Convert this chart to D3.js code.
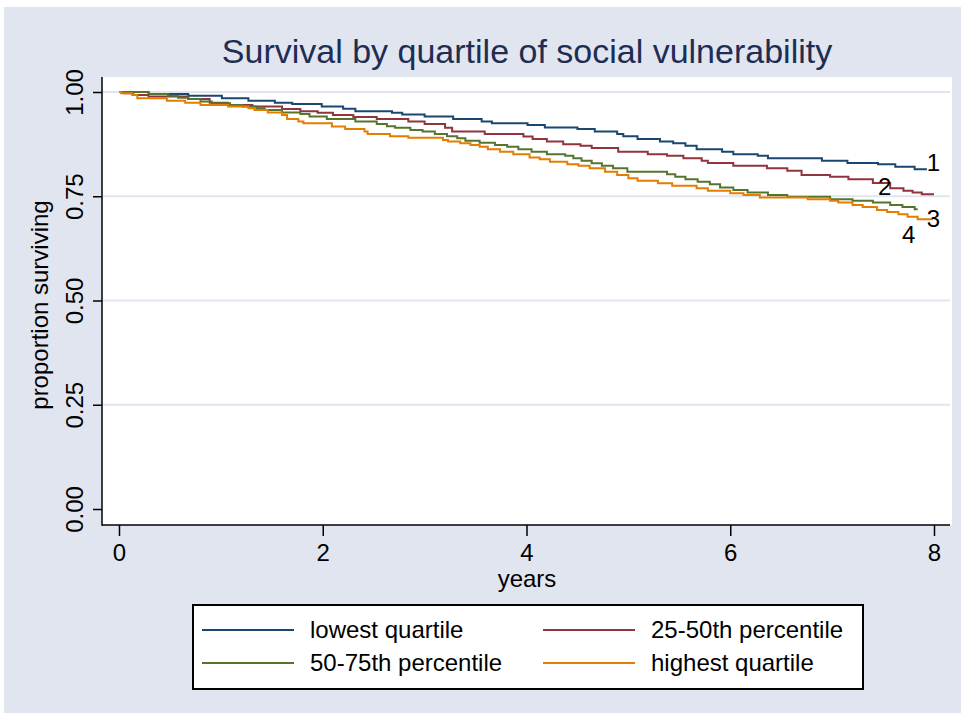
<!DOCTYPE html>
<html>
<head>
<meta charset="utf-8">
<script src="https://cdn.jsdelivr.net/npm/d3@7"></script>
<style>
  html, body { margin: 0; padding: 0; background: #ffffff; }
  svg { display: block; font-family: "Liberation Sans", Arial, sans-serif; }
</style>
</head>
<body>
<svg id="chart" width="964" height="717"></svg>
<script>
// Kaplan-Meier survival by quartile of social vulnerability
const categories = ["lowest quartile", "25-50th percentile", "50-75th percentile", "highest quartile"];
const curveTags = ["1", "2", "3", "4"];
const xTicks = [0, 2, 4, 6, 8];
const yTicks = [0, 0.25, 0.5, 0.75, 1];
const gridTicks = [0.25, 0.5, 0.75, 1];

// step times (years) and survival after each step; last entry is end of follow-up
const lowestYears = [0, 0.29, 0.68, 1.01, 1.27, 1.53, 1.70, 1.99, 2.20, 2.32, 2.68, 2.78, 3.00, 3.28, 3.56, 3.66,
  4.01, 4.18, 4.50, 4.67, 4.89, 4.95, 5.09, 5.31, 5.44, 5.56, 5.67, 5.92, 6.03, 6.27, 6.37, 6.90, 7.15, 7.45, 7.62, 7.81, 7.93];
const lowestSurv = [1.000, 0.995, 0.991, 0.985, 0.979, 0.974, 0.971, 0.965, 0.960, 0.954, 0.950, 0.946, 0.941, 0.935, 0.929, 0.925,
  0.921, 0.915, 0.911, 0.905, 0.899, 0.894, 0.887, 0.881, 0.877, 0.871, 0.863, 0.857, 0.851, 0.847, 0.841, 0.835, 0.830, 0.827, 0.821, 0.815, 0.815];

const secondYears = [0, 0.05, 0.14, 0.29, 0.68, 0.89, 1.07, 1.31, 1.60, 1.78, 1.95, 2.10, 2.30, 2.53, 2.84, 3.00, 3.20, 3.27, 3.59,
  3.97, 4.06, 4.20, 4.36, 4.53, 4.64, 4.90, 5.19, 5.38, 5.54, 5.72, 5.78, 6.03, 6.36, 6.56, 6.70, 6.98, 7.16, 7.40, 7.57, 7.70, 7.79, 7.88, 8.00];
const secondSurv = [1.000, 0.997, 0.993, 0.989, 0.983, 0.974, 0.969, 0.965, 0.959, 0.954, 0.950, 0.945, 0.940, 0.935, 0.929, 0.923, 0.914, 0.905, 0.899,
  0.893, 0.887, 0.881, 0.875, 0.871, 0.866, 0.857, 0.851, 0.847, 0.841, 0.835, 0.830, 0.823, 0.817, 0.811, 0.801, 0.797, 0.791, 0.782, 0.769, 0.763, 0.759, 0.755, 0.755];

const thirdYears = [0, 0.29, 0.48, 0.58, 0.68, 0.80, 0.91, 1.09, 1.21, 1.35, 1.43, 1.60, 1.78, 1.87, 2.04, 2.32, 2.53, 2.63, 2.71, 2.86, 2.98,
  3.10, 3.22, 3.32, 3.40, 3.54, 3.69, 3.81, 3.92, 4.05, 4.20, 4.38, 4.46, 4.54, 4.64, 4.74, 4.85, 4.99, 5.38, 5.46, 5.56, 5.68, 5.80, 5.90,
  6.03, 6.17, 6.37, 6.56, 6.98, 7.20, 7.40, 7.57, 7.69, 7.81, 7.84];
const thirdSurv = [1.000, 0.995, 0.991, 0.986, 0.983, 0.977, 0.973, 0.969, 0.965, 0.961, 0.957, 0.951, 0.947, 0.941, 0.935, 0.929, 0.923, 0.918, 0.914, 0.909, 0.905,
  0.899, 0.894, 0.889, 0.883, 0.878, 0.873, 0.869, 0.863, 0.857, 0.851, 0.847, 0.841, 0.835, 0.829, 0.823, 0.817, 0.809, 0.803, 0.797, 0.791, 0.785, 0.779, 0.771,
  0.765, 0.759, 0.753, 0.749, 0.743, 0.739, 0.735, 0.729, 0.724, 0.719, 0.719];

const highestYears = [0, 0.02, 0.13, 0.18, 0.47, 0.65, 0.80, 1.07, 1.27, 1.33, 1.46, 1.60, 1.65, 1.76, 1.81, 2.09, 2.22, 2.41, 2.44, 2.66, 2.84,
  3.18, 3.23, 3.35, 3.45, 3.54, 3.62, 3.74, 3.87, 4.03, 4.13, 4.23, 4.40, 4.51, 4.62, 4.77, 4.89, 5.00, 5.09, 5.29, 5.43, 5.67, 5.78,
  6.00, 6.13, 6.29, 6.76, 6.98, 7.06, 7.20, 7.30, 7.44, 7.54, 7.65, 7.74, 7.84, 7.99];
const highestSurv = [1.000, 0.997, 0.993, 0.985, 0.979, 0.974, 0.969, 0.965, 0.961, 0.957, 0.951, 0.945, 0.935, 0.929, 0.925, 0.917, 0.911, 0.905, 0.899, 0.894, 0.890,
  0.885, 0.881, 0.877, 0.873, 0.869, 0.863, 0.857, 0.851, 0.843, 0.839, 0.833, 0.827, 0.823, 0.817, 0.809, 0.801, 0.793, 0.787, 0.781, 0.775, 0.769, 0.763,
  0.757, 0.753, 0.747, 0.743, 0.739, 0.735, 0.729, 0.724, 0.717, 0.712, 0.707, 0.701, 0.695, 0.695];

const seriesColors = ["#1a476f", "#90353b", "#55752f", "#e37e00"];
// where each curve number sits relative to the end of its curve (px)
const tagOffsets = [[0, 2], [-56, 1], [9, 18], [-31, 24]];

const series = [
  { years: lowestYears, surv: lowestSurv },
  { years: secondYears, surv: secondSurv },
  { years: thirdYears, surv: thirdSurv },
  { years: highestYears, surv: highestSurv }
].map((s, i) => ({
  name: categories[i], tag: curveTags[i], color: seriesColors[i], offset: tagOffsets[i],
  points: s.years.map((t, j) => ({ t, s: s.surv[j] }))
}));

const svg = d3.select("#chart");
const W = 964, H = 717;
const plot = { left: 102, right: 952, top: 77, bottom: 525 };

// outer graph region
svg.append("rect").attr("x", 0).attr("y", 0).attr("width", W).attr("height", H).attr("fill", "#ffffff");
svg.append("rect").attr("x", 4).attr("y", 7).attr("width", 957).attr("height", 706).attr("fill", "#e1e5f0");
// plot region
svg.append("rect").attr("x", plot.left).attr("y", plot.top)
  .attr("width", plot.right - plot.left).attr("height", plot.bottom - plot.top).attr("fill", "#ffffff");

const x = d3.scaleLinear().domain([0, 8]).range([119, 934]);
const y = d3.scaleLinear().domain([0, 1]).range([509, 92]);

// horizontal grid
svg.append("g").selectAll("line").data(gridTicks).join("line")
  .attr("x1", plot.left).attr("x2", plot.right - 2)
  .attr("y1", d => y(d)).attr("y2", d => y(d))
  .attr("stroke", "#e1e5f0").attr("stroke-width", 2);

// survival curves
const line = d3.line().x(d => x(d.t)).y(d => y(d.s)).curve(d3.curveStepAfter);
svg.append("g").selectAll("path").data(series).join("path")
  .attr("d", d => line(d.points))
  .attr("fill", "none").attr("stroke", d => d.color).attr("stroke-width", 2);

// curve numbers
svg.append("g").selectAll("text").data(series).join("text")
  .attr("x", d => x(d.points[d.points.length - 1].t) + d.offset[0])
  .attr("y", d => y(d.points[d.points.length - 1].s) + d.offset[1])
  .attr("font-size", 24).attr("fill", "#000")
  .text(d => d.tag);

// y axis
const yAxis = svg.append("g").attr("transform", `translate(${plot.left},0)`)
  .call(d3.axisLeft(y).tickValues(yTicks).tickSize(9).tickFormat(d3.format(".2f")));
yAxis.select(".domain").remove();
yAxis.selectAll(".tick line").attr("stroke", "#000").attr("stroke-width", 1.5);
yAxis.selectAll(".tick text")
  .attr("transform", "rotate(-90)").attr("x", 0).attr("y", -19).attr("dy", 0)
  .attr("text-anchor", "middle").attr("font-size", 24).attr("fill", "#000")
  .attr("font-family", "Liberation Sans, Arial, sans-serif");

// x axis
const xAxis = svg.append("g").attr("transform", `translate(0,${plot.bottom})`)
  .call(d3.axisBottom(x).tickValues(xTicks).tickSize(11).tickPadding(8).tickFormat(d3.format("d")));
xAxis.select(".domain").remove();
xAxis.selectAll(".tick line").attr("stroke", "#000").attr("stroke-width", 1.5);
xAxis.selectAll(".tick text").attr("font-size", 24).attr("fill", "#000")
  .attr("font-family", "Liberation Sans, Arial, sans-serif");

// axis lines
svg.append("line").attr("x1", plot.left).attr("x2", plot.left).attr("y1", plot.top).attr("y2", plot.bottom + 0.75)
  .attr("stroke", "#000").attr("stroke-width", 1.5);
svg.append("line").attr("x1", plot.left).attr("x2", plot.right - 2).attr("y1", plot.bottom).attr("y2", plot.bottom)
  .attr("stroke", "#000").attr("stroke-width", 1.5);

// axis titles
svg.append("text").attr("transform", "translate(48,305) rotate(-90)")
  .attr("text-anchor", "middle").attr("font-size", 24).attr("fill", "#000")
  .text("proportion surviving");
svg.append("text").attr("x", 527).attr("y", 587)
  .attr("text-anchor", "middle").attr("font-size", 24).attr("fill", "#000")
  .text("years");

// title
svg.append("text").attr("x", 527).attr("y", 63)
  .attr("text-anchor", "middle").attr("font-size", 34).attr("fill", "#1e2d53")
  .text("Survival by quartile of social vulnerability");

// legend
const legend = svg.append("g");
legend.append("rect").attr("x", 193).attr("y", 605).attr("width", 670).attr("height", 84)
  .attr("fill", "#ffffff").attr("stroke", "#000").attr("stroke-width", 2);
const legendCols = [202, 543];
const legendRows = [630, 663];
const items = legend.selectAll("g.item").data(series).join("g").attr("class", "item")
  .attr("transform", (d, i) => `translate(${legendCols[i % 2]},${legendRows[Math.floor(i / 2)]})`);
items.append("line").attr("x1", 0).attr("x2", 92).attr("y1", 0).attr("y2", 0)
  .attr("stroke", d => d.color).attr("stroke-width", 2);
items.append("text").attr("x", 108).attr("y", 8)
  .attr("font-size", 24).attr("fill", "#000").text(d => d.name);
</script>
</body>
</html>
